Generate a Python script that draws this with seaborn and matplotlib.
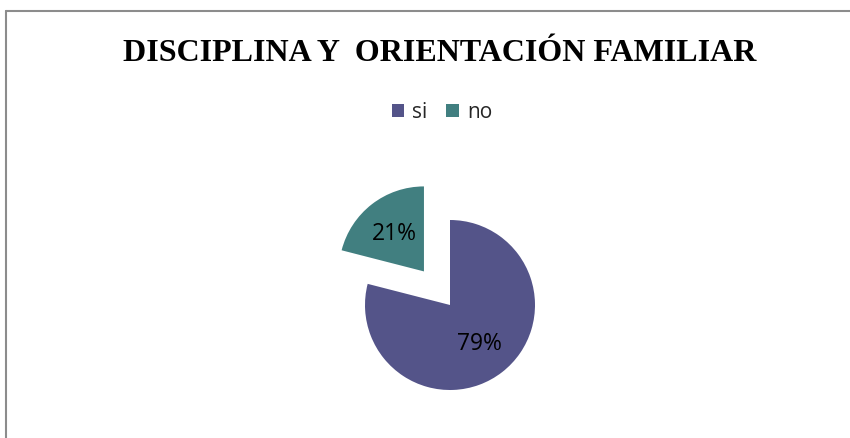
import matplotlib
matplotlib.use("Agg")
import matplotlib.pyplot as plt
import seaborn as sns
from matplotlib.lines import Line2D

categories = ["si", "no"]
percentages = [79, 21]
slice_colors = ["#545489", "#417F80"]
explode_frac = [0, 0.5]

sns.set_theme(style="white")
plt.rcParams["font.family"] = ["Open Sans", "DejaVu Sans"]

W, H = 850, 439
R = 85
fig = plt.figure(figsize=(W / 100, H / 100), dpi=100)
ax = fig.add_axes([0, 0, 1, 1])

# matplotlib's explode is in data units, so scale it by the radius
wedges, texts, autotexts = ax.pie(
    percentages, colors=slice_colors, startangle=90, counterclock=False,
    explode=[e * R for e in explode_frac], center=(450, H - 306), radius=R,
    autopct="%d%%", pctdistance=0.57,
    textprops=dict(fontsize=16.5, color="black"),
    wedgeprops=dict(linewidth=0),
)
ax.set_xlim(0, W)
ax.set_ylim(0, H)
ax.set_aspect("auto")
ax.axis("off")

fig.text(440 / W, 1 - 61 / H, "DISCIPLINA Y  ORIENTACIÓN FAMILIAR",
         ha="center", va="baseline", family="Liberation Serif",
         weight="bold", fontsize=23, color="black")

fig.legend(wedges, categories, loc="center", bbox_to_anchor=(442 / W, 1 - 113 / H),
           ncol=2, frameon=False, fontsize=15, handlelength=0.6, handleheight=0.6,
           handletextpad=0.4, columnspacing=0.9, borderpad=0)

# chart frame (only top and left edges show in the crop)
fig.add_artist(Line2D([6 / W, 1], [1 - 12 / H, 1 - 12 / H], color="#8c8c8c", lw=1.5,
                      transform=fig.transFigure))
fig.add_artist(Line2D([6 / W, 6 / W], [0, 1 - 12 / H], color="#8c8c8c", lw=1.5,
                      transform=fig.transFigure))

fig.savefig("out.png", dpi=100, facecolor="white")
